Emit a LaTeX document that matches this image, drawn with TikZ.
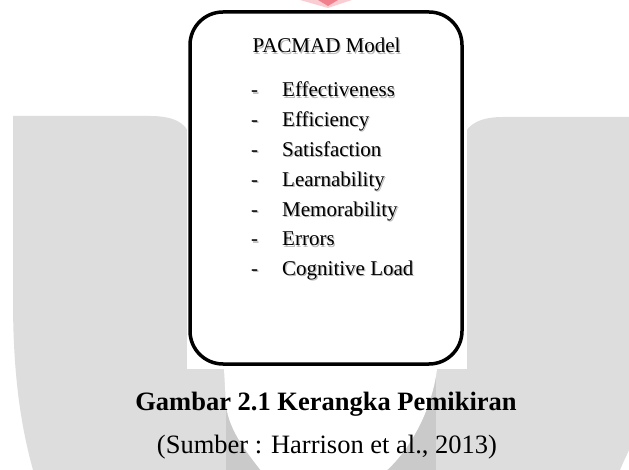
\documentclass[tikz,border=0pt]{standalone}
\usepackage{fontspec}
\setmainfont{Liberation Serif}
\definecolor{wmlight}{RGB}{221,221,221}
\definecolor{wmmid}{RGB}{202,202,202}
\definecolor{wmpink}{RGB}{240,128,140}
\definecolor{wmpinklt}{RGB}{250,205,210}
\newcommand{\shtext}[1]{\makebox[0pt][l]{\kern1.2pt\raisebox{-1.2pt}{\textcolor{black!28}{#1}}}#1}
\tikzset{
  frame/.style={draw=black, line width=3.5pt, rounded corners=33pt, fill=white,
    minimum width=272pt, minimum height=352pt, inner sep=0pt},
  boxtext/.style={inner sep=0pt, font=\fontsize{21}{25}\selectfont},
  captext/.style={inner sep=0pt, font=\bfseries\fontsize{26.5}{30}\selectfont},
  srctext/.style={inner sep=0pt, font=\fontsize{26.5}{30}\selectfont}
}
\begin{document}
\begin{tikzpicture}[x=1pt,y=-1pt]
\useasboundingbox (0,0) rectangle (629,470);
\fill[white] (0,0) rectangle (629,470);
% watermark shapes
\fill[wmlight] (13,116) -- (150,116) .. controls (172,116) and (186,122) .. (190,136)
  -- (190,369) -- (226,369) -- (229,470) -- (33,470)
  .. controls (22,430) and (13,380) .. (13,300) -- cycle;
\fill[wmlight] (629,117) -- (503,117) .. controls (482,117) and (468,123) .. (463,137)
  -- (463,369) -- (434,369) -- (434,470) -- (620,470)
  .. controls (624,460) and (627,455) .. (629,450) -- cycle;
\fill[wmmid] (226,369) rectangle (436,470);
\fill[white] (222,369) -- (437,369) .. controls (432,410) and (410,450) .. (385,472)
  -- (262,472) .. controls (245,450) and (229,430) .. (226,405) -- (224,369) -- cycle;
% backdrop of the box
\fill[white] (187,8) rectangle (467,369);
% pink tip of the logo
\fill[wmpinklt] (300,0) -- (352,0) -- (328,8) -- cycle;
\fill[wmpink] (318,0) -- (338,0) -- (328,6) -- cycle;
% the box
\node[frame] (box) at (326,188) {};
\node[boxtext, anchor=base] (title) at (326.5,53) {\shtext{PACMAD Model}};
\foreach \i/\t [count=\k from 0] in {1/Effectiveness,2/Efficiency,3/Satisfaction,4/Learnability,5/Memorability,6/Errors,7/Cognitive Load}{
  \node[boxtext, anchor=base west] (d\i) at (251,97+29.8*\k) {\shtext{-}};
  \node[boxtext, anchor=base west] (t\i) at (282,97+29.8*\k) {\shtext{\t}};
}
% caption
\node[captext, anchor=base] (cap) at (326,410) {Gambar 2.1 Kerangka Pemikiran};
\node[srctext, anchor=base] (src) at (327,453) {(Sumber : Harrison et al., 2013)};
\end{tikzpicture}
\end{document}
